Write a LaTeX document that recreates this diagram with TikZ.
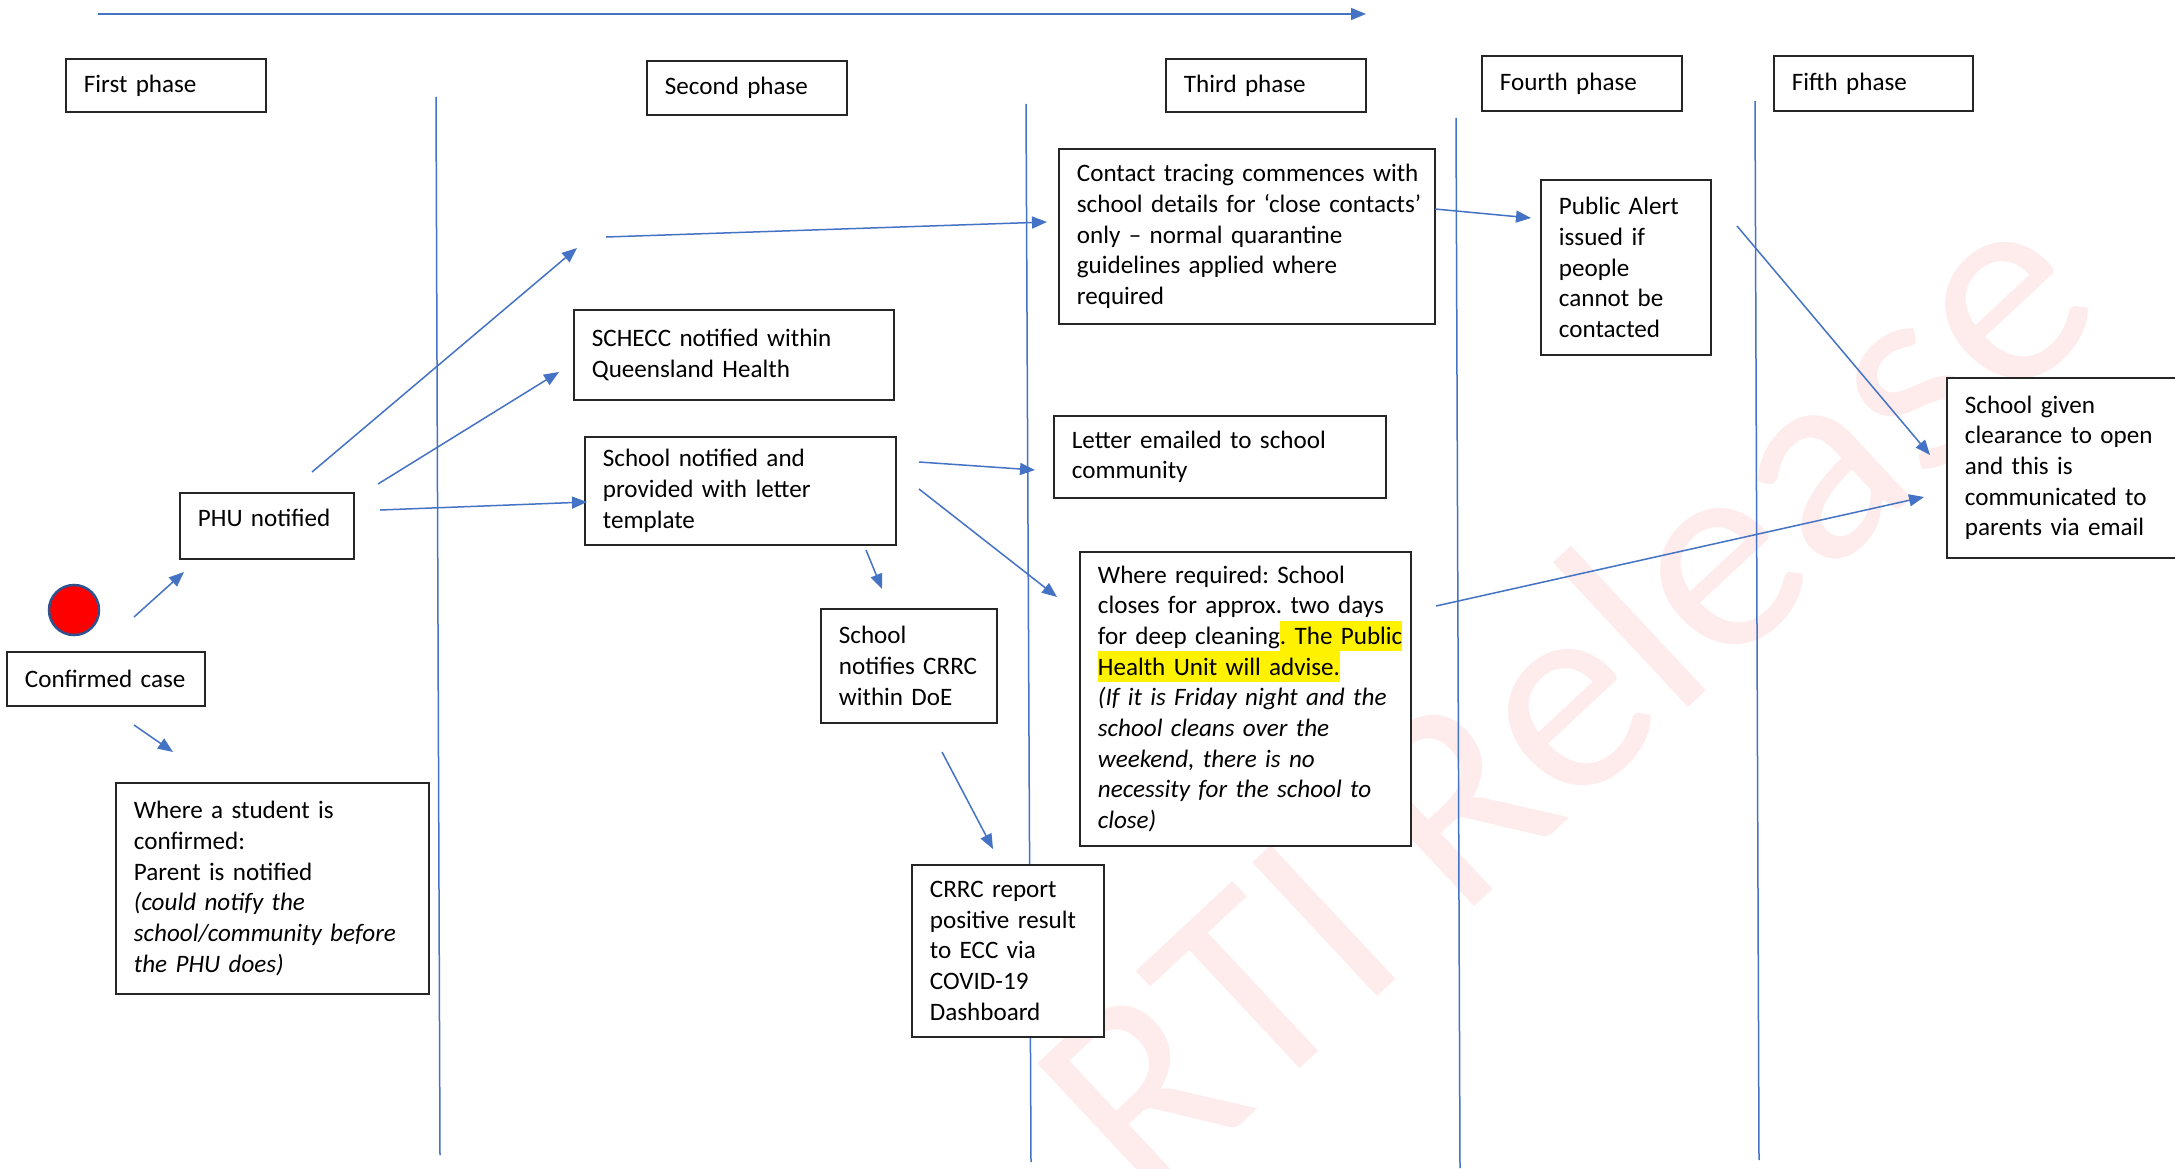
\documentclass[tikz,border=0pt]{standalone}
\usepackage{fontspec}
\setmainfont{Carlito}
\usetikzlibrary{arrows.meta}
\definecolor{lnblue}{HTML}{4472C4}
\definecolor{dotedge}{HTML}{2F528F}
\definecolor{wmpink}{RGB}{254,236,236}
\newcommand\mybodyfont{\fontsize{25.1pt}{30.7pt}\selectfont\frenchspacing}
\newcommand\oneline[1]{\mbox{#1}}
\newcommand\hlbox[1]{{\fboxsep=0pt\colorbox{yellow}{\rule[-6.7pt]{0pt}{30.6pt}#1}}}
\begin{document}
\frenchspacing
\begin{tikzpicture}[x=1pt,y=-1pt,
  box/.style={draw=black!85, line width=1.8pt, fill=white, rectangle, inner xsep=18pt, inner ysep=0pt, align=left, anchor=north west, font=\mybodyfont},
  arr/.style={draw=lnblue, line width=1.5pt, -{Triangle[length=15pt,width=12pt]}},
  vline/.style={draw=lnblue, line width=1.5pt}]
\useasboundingbox (0,0) rectangle (2175,1169);
\fill[white] (0,0) rectangle (2175,1169);
% watermark
\node[text=wmpink, font=\fontsize{285pt}{290pt}\selectfont, rotate=43, inner sep=0pt] (wm) at (1562,691) {RTI Release};
% phase separators
\draw[vline] (436,97) -- (440,1155);
\draw[vline] (1026,104) -- (1031,1162);
\draw[vline] (1456,118) -- (1460,1168);
\draw[vline] (1755,101) -- (1759,1160);
% timeline arrow
\coordinate (tl0) at (98,14);
\coordinate (tl1) at (1366,14);
\draw[arr] (tl0) -- (tl1);
% phase boxes
\node[box, minimum width=200pt, minimum height=53pt, text width=164pt] (ph1) at (65,58) {First phase};
\node[box, minimum width=200pt, minimum height=54pt, text width=164pt] (ph2) at (646,60) {Second phase};
\node[box, minimum width=200pt, minimum height=53pt, text width=164pt] (ph3) at (1165,58) {Third phase};
\node[box, minimum width=200pt, minimum height=55pt, text width=164pt] (ph4) at (1481,55) {Fourth phase};
\node[box, minimum width=199pt, minimum height=55pt, text width=163pt] (ph5) at (1773,55) {Fifth phase};
% red dot
\node[circle, fill=red, draw=dotedge, line width=2.5pt, minimum size=50pt, inner sep=0pt] (dot) at (74,610) {};
% content boxes
\node[box, minimum width=198pt, minimum height=54pt, text width=162pt] (cc) at (6,651) {Confirmed case};
\node[box, minimum width=174pt, minimum height=66pt, text width=138pt] (phu) at (179,492) {PHU notified\rule[-16pt]{0pt}{0pt}};
\node[box, minimum width=313pt, minimum height=211pt, text width=277pt] (st) at (115,782) {\oneline{Where a student is}\\\oneline{confirmed:}\\\oneline{Parent is notified}\\\oneline{\itshape (could notify the}\\\oneline{\itshape school/community before}\\\oneline{\itshape the PHU does)}};
\node[box, minimum width=320pt, minimum height=90pt, text width=284pt] (sc) at (573,309) {\oneline{SCHECC notified within}\\\oneline{Queensland Health}};
\node[box, minimum width=311pt, minimum height=108pt, text width=275pt] (sn) at (584,436) {\oneline{School notified and}\\\oneline{provided with letter}\\\oneline{template}};
\node[box, minimum width=176pt, minimum height=114pt, text width=140pt] (cn) at (820,608) {\oneline{School}\\\oneline{notifies CRRC}\\\oneline{within DoE}};
\node[box, minimum width=192pt, minimum height=172pt, text width=156pt] (cr) at (911,864) {\oneline{CRRC report}\\\oneline{positive result}\\\oneline{to ECC via}\\\oneline{COVID-19}\\\oneline{Dashboard}};
\node[box, minimum width=376pt, minimum height=175pt, text width=340pt] (ct) at (1058,148) {\oneline{Contact tracing commences with}\\\oneline{school details for ‘close contacts’}\\\oneline{only – normal quarantine}\\\oneline{guidelines applied where}\\\oneline{required}};
\node[box, minimum width=332pt, minimum height=82pt, text width=296pt] (le) at (1053,415) {\oneline{Letter emailed to school}\\\oneline{community}};
\node[box, minimum width=331pt, minimum height=294pt, text width=295pt] (wr) at (1079,551) {\oneline{Where required: School}\\\oneline{closes for approx. two days}\\\oneline{for deep cleaning\hlbox{. The Public}}\\\oneline{\hlbox{Health Unit will advise.}}\\\oneline{\itshape (If it is Friday night and the}\\\oneline{\itshape school cleans over the}\\\oneline{\itshape weekend, there is no}\\\oneline{\itshape necessity for the school to}\\\oneline{\itshape close)}};
\node[box, minimum width=170pt, minimum height=175pt, text width=134pt] (pa) at (1540,179) {\oneline{Public Alert}\\\oneline{issued if}\\\oneline{people}\\\oneline{cannot be}\\\oneline{contacted}};
\node[box, minimum width=262pt, minimum height=180pt, text width=226pt] (cl) at (1946,377) {\oneline{School given}\\\oneline{clearance to open}\\\oneline{and this is}\\\oneline{communicated to}\\\oneline{parents via email}};
% connector end points
\coordinate (a1s) at (134,617);  \coordinate (a1e) at (184,572);
\coordinate (a2s) at (134,725);  \coordinate (a2e) at (173,752);
\coordinate (a3s) at (312,472);  \coordinate (a3e) at (577,248);
\coordinate (a4s) at (378,484);  \coordinate (a4e) at (559,372);
\coordinate (a5s) at (380,510);  \coordinate (a5e) at (587,502);
\coordinate (a6s) at (606,237);  \coordinate (a6e) at (1047,222);
\coordinate (a7s) at (919,462);  \coordinate (a7e) at (1035,470);
\coordinate (a8s) at (919,489);  \coordinate (a8e) at (1057,597);
\coordinate (a9s) at (866,550);  \coordinate (a9e) at (882,589);
\coordinate (a10s) at (942,752); \coordinate (a10e) at (993,849);
\coordinate (a11s) at (1435,209); \coordinate (a11e) at (1531,218);
\coordinate (a12s) at (1737,226); \coordinate (a12e) at (1930,455);
\coordinate (a13s) at (1436,606); \coordinate (a13e) at (1924,497);
\foreach \i in {1,...,13} {\draw[arr] (a\i s) -- (a\i e);}
\end{tikzpicture}
\end{document}
